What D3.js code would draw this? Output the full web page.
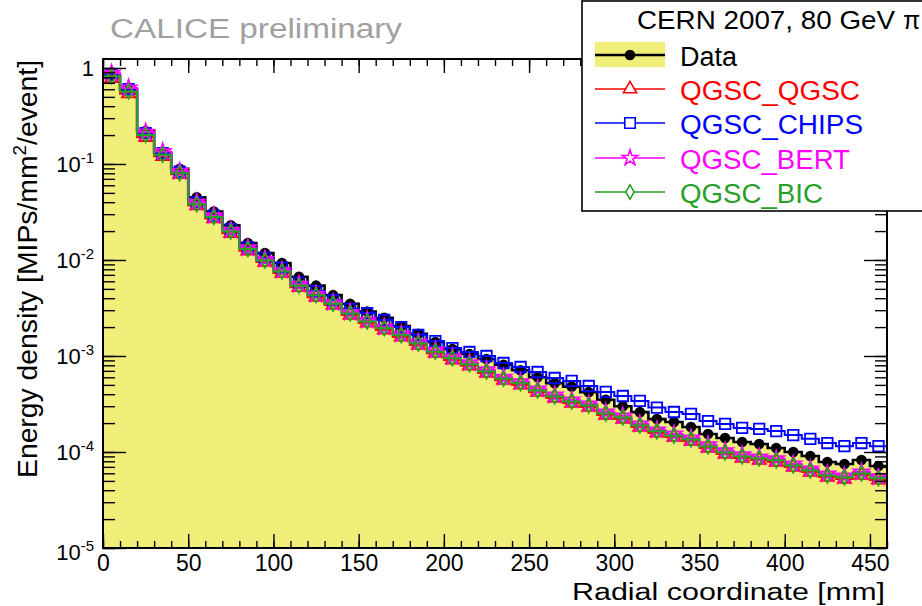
<!DOCTYPE html>
<html><head><meta charset="utf-8">
<script src="https://cdn.jsdelivr.net/npm/d3@7"></script>
<style>
html,body{margin:0;padding:0;background:#fff;}
svg{display:block;font-family:"Liberation Sans",Arial,Helvetica,sans-serif;}
</style></head>
<body>
<svg id="c" width="922" height="606"></svg>
<script>
// ---- data ----
const radius = [5,15,25,35,45,55,65,75,85,95,105,115,125,135,145,155,165,175,185,195,205,215,225,235,245,255,265,275,285,295,305,315,325,335,345,355,365,375,385,395,405,415,425,435,445,455];
const binWidth = 10;
const dataValues = [0.84,0.59,0.22,0.13,0.089,0.045,0.032,0.023,0.015,0.0118,0.0093,0.0067,0.0054,0.0043,0.0035,0.0029,0.0025,0.00205,0.0017,0.0014,0.00118,0.00105,0.00093,0.00081,0.00071,0.00060,0.00052,0.00048,0.00042,0.00035,0.00030,0.00026,0.00022,0.000205,0.000182,0.000154,0.000140,0.000127,0.000121,0.000110,0.000100,0.0000908,0.0000787,0.0000750,0.0000826,0.0000715];
const qgscQgsc = [0.78,0.54,0.19,0.12,0.078,0.037,0.027,0.019,0.0125,0.0095,0.0073,0.0052,0.0041,0.0034,0.00267,0.00221,0.00187,0.00158,0.0013,0.00107,0.00091,0.00079,0.000665,0.00056,0.0005,0.00042,0.000365,0.000324,0.000294,0.000243,0.000221,0.000182,0.000158,0.000143,0.00013,0.00011,0.0000953,0.0000866,0.0000826,0.0000787,0.0000698,0.0000619,0.0000549,0.0000523,0.0000575,0.0000512];
const qgscChips = [0.86,0.60,0.21,0.13,0.083,0.040,0.029,0.021,0.0135,0.0105,0.0083,0.0058,0.00475,0.00383,0.0031,0.0028,0.00237,0.0020,0.00166,0.00143,0.00121,0.0011,0.00100,0.000845,0.000768,0.000681,0.00059,0.00055,0.000487,0.000422,0.000383,0.00034,0.00029,0.000261,0.000249,0.00021,0.000196,0.000178,0.000174,0.000165,0.000150,0.000137,0.000124,0.000115,0.000124,0.000115];
const qgscBert = [0.88,0.62,0.215,0.135,0.084,0.040,0.029,0.0205,0.0134,0.0102,0.0078,0.0056,0.0044,0.0036,0.00285,0.00236,0.00200,0.00169,0.00139,0.00115,0.00098,0.00085,0.00072,0.00060,0.00054,0.000455,0.000392,0.000349,0.000316,0.000262,0.000238,0.000196,0.000170,0.000154,0.000140,0.000119,0.000103,0.0000935,0.0000890,0.0000850,0.0000752,0.0000668,0.0000592,0.0000564,0.0000620,0.0000552];
const qgscBic = [0.82,0.57,0.20,0.125,0.080,0.038,0.028,0.0198,0.0130,0.0099,0.0076,0.0054,0.0043,0.0035,0.00277,0.00229,0.00194,0.00164,0.00135,0.00111,0.00095,0.00082,0.00069,0.00058,0.00052,0.000437,0.000379,0.000336,0.000305,0.000252,0.000229,0.000189,0.000164,0.000148,0.000135,0.000114,0.0000990,0.0000900,0.0000858,0.0000818,0.0000725,0.0000643,0.0000570,0.0000543,0.0000597,0.0000532];
const seriesNames = ["QGSC_QGSC","QGSC_CHIPS","QGSC_BERT","QGSC_BIC"];
const seriesColors = ["#ff0000","#0000ff","#ff00ff","#27a027"];
const xTicks = [0,50,100,150,200,250,300,350,400,450];
const yTickExps = [0,-1,-2,-3,-4,-5];

// ---- layout ----
const L=103, R=887, T=59, B=548;
const svg = d3.select("#c");
const x = d3.scaleLinear().domain([0,460]).range([L,R]);
const y = d3.scaleLog().domain([1e-5,1.24]).range([B,T]);

const defs = svg.append("defs");
const pat = defs.append("pattern").attr("id","yel").attr("width",2).attr("height",2).attr("patternUnits","userSpaceOnUse");
pat.append("rect").attr("width",2).attr("height",2).attr("fill","#fbf83a");
pat.append("rect").attr("x",1).attr("y",0).attr("width",1).attr("height",1).attr("fill","#e4e2c0");
pat.append("rect").attr("x",0).attr("y",1).attr("width",1).attr("height",1).attr("fill","#eae8b4");
defs.append("clipPath").attr("id","clip").append("rect").attr("x",L).attr("y",T).attr("width",R-L).attr("height",B-T);

function stepPoints(vals){
  const pts=[];
  radius.forEach((c,i)=>{pts.push([c-binWidth/2,vals[i]]);pts.push([c+binWidth/2,vals[i]]);});
  return pts;
}
const stepLine = d3.line().x(d=>x(d[0])).y(d=>y(d[1]));
const stepArea = d3.area().x(d=>x(d[0])).y0(B).y1(d=>y(d[1]));

const plot = svg.append("g").attr("clip-path","url(#clip)");
plot.append("path").attr("d",stepArea(stepPoints(dataValues))).attr("fill","url(#yel)").attr("shape-rendering","crispEdges");
plot.append("path").attr("d",stepLine(stepPoints(dataValues))).attr("fill","none").attr("stroke","#000").attr("stroke-width",2.6);
plot.selectAll(".dm").data(dataValues).join("circle").attr("cx",(d,i)=>x(radius[i])).attr("cy",d=>y(d)).attr("r",5.3).attr("fill","#000");

const symbols=[d3.symbolTriangle,d3.symbolSquare,d3.symbolStar,d3.symbolDiamond];
const symSizes=[75,110,75,60];
const mcs=[qgscQgsc,qgscChips,qgscBert,qgscBic];
mcs.forEach((vals,k)=>{
  plot.append("path").attr("d",stepLine(stepPoints(vals))).attr("fill","none").attr("stroke",seriesColors[k]).attr("stroke-width",2);
  const sym=d3.symbol().type(symbols[k]).size(symSizes[k]);
  plot.selectAll(".m"+k).data(vals).join("path")
    .attr("transform",(d,i)=>`translate(${x(radius[i])},${y(d)})`)
    .attr("d",sym()).attr("fill","none").attr("stroke",seriesColors[k]).attr("stroke-width",1.8);
});

// ---- axes (ticks inside) ----
const xMinor = d3.range(0,461,10);
svg.append("g").attr("transform",`translate(0,${B})`)
  .call(d3.axisBottom(x).tickValues(xMinor).tickSizeInner(-7).tickSizeOuter(0).tickFormat(""));
const gxb2 = svg.append("g").attr("transform",`translate(0,${B})`)
  .call(d3.axisBottom(x).tickValues(xTicks).tickSizeInner(-14).tickSizeOuter(0).tickPadding(7).tickFormat(d3.format("d")));
svg.append("g").attr("transform",`translate(0,${T})`)
  .call(d3.axisTop(x).tickValues(xMinor).tickSizeInner(-7).tickSizeOuter(0).tickFormat(""));
svg.append("g").attr("transform",`translate(0,${T})`)
  .call(d3.axisTop(x).tickValues(xTicks).tickSizeInner(-14).tickSizeOuter(0).tickFormat(""));
const yMinor=[]; for(let e=-5;e<=0;e++){for(let m=1;m<=9;m++){const v=m*Math.pow(10,e); if(v<=1.24) yMinor.push(v);}}
const yMajor = yTickExps.map(e=>Math.pow(10,e));
svg.append("g").attr("transform",`translate(${L},0)`)
  .call(d3.axisLeft(y).tickValues(yMinor).tickSizeInner(-12).tickSizeOuter(0).tickFormat(""));
svg.append("g").attr("transform",`translate(${L},0)`)
  .call(d3.axisLeft(y).tickValues(yMajor).tickSizeInner(-23).tickSizeOuter(0).tickFormat(""));
svg.append("g").attr("transform",`translate(${R},0)`)
  .call(d3.axisRight(y).tickValues(yMinor).tickSizeInner(-12).tickSizeOuter(0).tickFormat(""));
svg.append("g").attr("transform",`translate(${R},0)`)
  .call(d3.axisRight(y).tickValues(yMajor).tickSizeInner(-23).tickSizeOuter(0).tickFormat(""));
svg.selectAll(".domain").remove();
svg.selectAll(".tick line").attr("stroke","#000").attr("stroke-width",1.4);
gxb2.selectAll(".tick text").attr("font-size",23).attr("fill","#000").attr("font-family","Liberation Sans, Arial, sans-serif");

yTickExps.forEach(e=>{
  const t = svg.append("text").attr("x",94).attr("y",y(Math.pow(10,e))+8 + (e===-5?4:0)).attr("text-anchor","end")
    .attr("font-size",22).attr("fill","#000");
  if(e===0){ t.text("1"); }
  else { t.append("tspan").text("10"); t.append("tspan").attr("font-size",15).attr("dy",-9).text(String(e)); }
});

svg.append("rect").attr("x",L).attr("y",T).attr("width",R-L).attr("height",B-T).attr("fill","none").attr("stroke","#000").attr("stroke-width",2);

svg.append("text").attr("x",885).attr("y",600).attr("text-anchor","end").attr("font-size",23)
  .attr("textLength",313).attr("lengthAdjust","spacingAndGlyphs").text("Radial coordinate [mm]");
const yt = svg.append("text").attr("transform","translate(37,60) rotate(-90)").attr("text-anchor","end").attr("font-size",27)
  .attr("textLength",418).attr("lengthAdjust","spacingAndGlyphs");
yt.append("tspan").text("Energy density [MIPs/mm");
yt.append("tspan").attr("font-size",18).attr("dy",-11).text("2");
yt.append("tspan").attr("dy",11).text("/event]");
svg.append("text").attr("x",110).attr("y",38).attr("font-size",27).attr("fill","#a0a0a0")
  .attr("textLength",292).attr("lengthAdjust","spacingAndGlyphs").text("CALICE preliminary");

// ---- legend ----
const lg = svg.append("g");
lg.append("rect").attr("x",582).attr("y",1).attr("width",400).attr("height",210).attr("fill","#fff").attr("stroke","#000").attr("stroke-width",1.6);
lg.append("text").attr("x",637).attr("y",29).attr("font-size",25).attr("textLength",258).attr("lengthAdjust","spacingAndGlyphs").text("CERN 2007, 80 GeV");
lg.append("text").attr("x",903).attr("y",29).attr("font-size",25).text("\u03C0");
const entryY=[55,89,123,158,192];
lg.append("rect").attr("x",595).attr("y",entryY[0]-13).attr("width",70).attr("height",25).attr("fill","url(#yel)").attr("shape-rendering","crispEdges");
lg.append("line").attr("x1",595).attr("x2",665).attr("y1",entryY[0]).attr("y2",entryY[0]).attr("stroke","#000").attr("stroke-width",2.6);
lg.append("circle").attr("cx",630).attr("cy",entryY[0]).attr("r",5.3).attr("fill","#000");
lg.append("text").attr("x",680).attr("y",entryY[0]+11).attr("font-size",27).attr("fill","#000").text("Data");
seriesNames.forEach((n,k)=>{
  const yy=entryY[k+1];
  lg.append("line").attr("x1",595).attr("x2",665).attr("y1",yy).attr("y2",yy).attr("stroke",seriesColors[k]).attr("stroke-width",1.6);
  lg.append("path").attr("transform",`translate(630,${yy})`).attr("d",d3.symbol().type(symbols[k]).size(symSizes[k])())
    .attr("fill","#fff").attr("stroke",seriesColors[k]).attr("stroke-width",1.6);
  lg.append("text").attr("x",680).attr("y",yy+11).attr("font-size",27).attr("fill",seriesColors[k])
    .attr("textLength",[180,183,170,143][k]).attr("lengthAdjust","spacingAndGlyphs").text(n);
});
</script>
</body></html>
